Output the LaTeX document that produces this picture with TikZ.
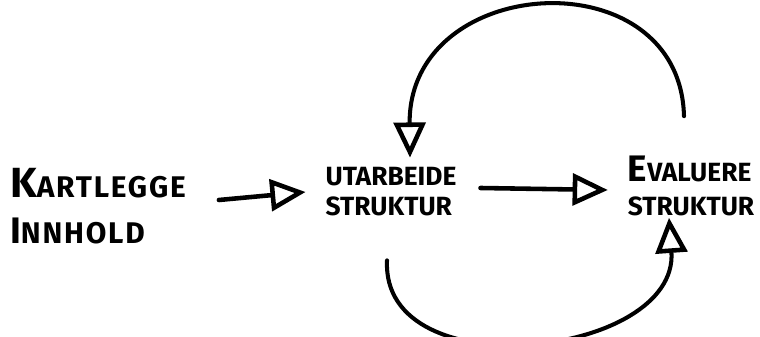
\documentclass[tikz,border=0pt]{standalone}
\usepackage{fontspec}
\setmainfont{Fira Sans}
\usetikzlibrary{arrows.meta,positioning}

\tikzset{
  tekst/.style={font=\bfseries\fontsize{15}{17}\selectfont,align=left,inner sep=1pt},
  grotetekst/.style={tekst,font=\bfseries\fontsize{17}{19}\selectfont\addfontfeature{LetterSpace=6}},
  pijl/.style={line width=2.6pt,line cap=round,-{Triangle[open,length=20pt,width=18pt,line width=2.6pt]}},
  boog/.style={line width=2.3pt,line cap=round,-{Triangle[open,length=20pt,width=18pt,line width=2.6pt]}}
}
\newcommand{\grootletter}[1]{{\fontsize{21}{21}\selectfont #1}}

\begin{document}
\begin{tikzpicture}[x=0.02cm,y=-0.02cm]
  \useasboundingbox (0,0) rectangle (760,337);

  \node[grotetekst,anchor=west,text depth=0pt] (kartlegge) at (8,206)
    {{\fontsize{24}{24}\selectfont K}ARTLEGGE\\[7pt]{\fontsize{21}{21}\selectfont I}NNHOLD};
  \node[tekst] (utarbeide) at (391,192) {UTARBEIDE\\STRUKTUR};
  \node[tekst] (evaluere) at (691,186) {\grootletter{E}VALUERE\\[2pt]STRUKTUR};

  % pijlen tussen de stappen
  \draw[pijl] ([shift={(31,-6)}]kartlegge.east) -- ([shift={(-18,0)}]utarbeide.west);
  \draw[pijl] ([shift={(22,-4)}]utarbeide.east) -- ([shift={(-18,4)}]evaluere.west);

  % terugkoppeling boven en onder
  \draw[boog] ([shift={(-7,-38)}]evaluere.north)
    .. controls +(-4,-160) and +(-2,-185) .. ([shift={(19,-8)}]utarbeide.north);
  \draw[boog] ([shift={(-4,42)}]utarbeide.south)
    .. controls +(-6,130) and +(10,140) .. ([shift={(-22,0)}]evaluere.south);
\end{tikzpicture}
\end{document}
